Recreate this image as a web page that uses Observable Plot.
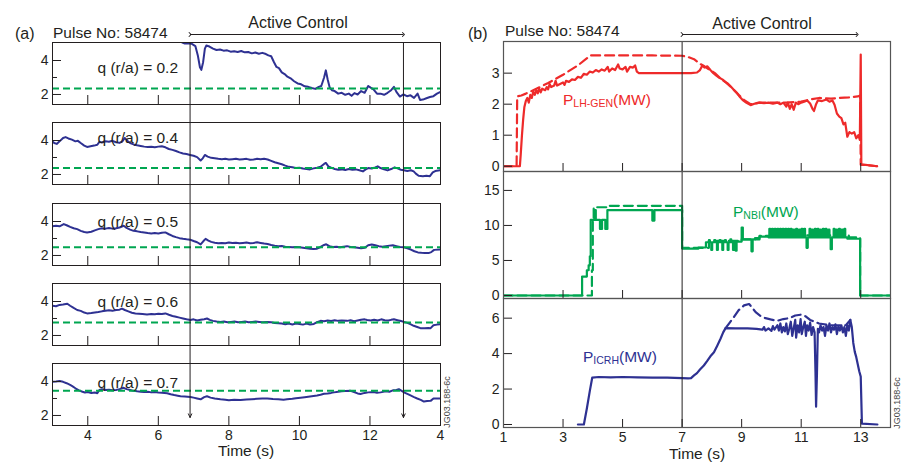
<!DOCTYPE html>
<html><head><meta charset="utf-8">
<script src="https://cdn.jsdelivr.net/npm/d3@7"></script>
<script src="https://cdn.jsdelivr.net/npm/@observablehq/plot@0.6"></script>
<style>
body{margin:0;background:#fff;}
#chart{position:relative;width:905px;height:469px;background:#fff;font-family:"Liberation Sans",Arial,Helvetica,sans-serif;color:#231f20;overflow:hidden}
.lbl{position:absolute;white-space:nowrap;line-height:1}
</style></head><body><div id="chart"></div>
<script>
// ---------------- data ----------------
const pulseLabel = "Pulse No: 58474";
const activeLabel = "Active Control";
const codeLabel = "JG03.188-6c";
const timeLabel = "Time (s)";

// panel (a): safety factor q at several radii
const qLabels = ["q (r/a) = 0.2", "q (r/a) = 0.4", "q (r/a) = 0.5", "q (r/a) = 0.6", "q (r/a) = 0.7"];
const qTargets = [2.35, 2.38, 2.48, 2.77, 3.45];
const qTicks = [2, 4];
const qMinorTicks = [3];
const timeATicks = [4, 6, 8, 10, 12, 14];
const timeATickLabels = ["4", "6", "8", "10", "12", "4"];
const timeAInnerTicks = [4, 6, 8, 10, 12];
const activeA = [6.9, 12.95];

const q02 = [[6.68,5.05],[6.75,5.0],[6.85,5.02],[6.95,4.98],[7.05,4.85],[7.12,4.3],[7.18,3.6],[7.22,3.45],[7.27,3.9],[7.32,4.7],[7.36,4.88],[7.45,4.82],[7.55,4.7],[7.65,4.62],[7.75,4.65],[7.85,4.58],[7.95,4.6],[8.05,4.52],[8.15,4.55],[8.25,4.5],[8.35,4.56],[8.45,4.48],[8.55,4.5],[8.65,4.42],[8.75,4.47],[8.85,4.4],[8.95,4.45],[9.05,4.38],[9.12,4.3],[9.2,4.25],[9.28,3.9],[9.35,3.62],[9.42,3.55],[9.5,3.3],[9.58,3.2],[9.66,3.05],[9.75,2.95],[9.85,2.78],[9.95,2.65],[10.05,2.6],[10.15,2.48],[10.25,2.45],[10.35,2.38],[10.45,2.33],[10.55,2.45],[10.62,2.5],[10.7,3.0],[10.75,3.42],[10.8,2.9],[10.86,2.4],[10.92,2.25],[11.0,2.2],[11.1,2.05],[11.2,2.1],[11.3,1.98],[11.4,2.05],[11.48,1.92],[11.56,2.08],[11.65,2.0],[11.75,2.2],[11.85,2.1],[11.95,2.5],[12.02,2.4],[12.1,2.3],[12.2,2.05],[12.3,2.05],[12.4,1.98],[12.5,2.1],[12.6,2.25],[12.68,2.45],[12.75,2.15],[12.85,1.88],[12.95,2.0],[13.05,1.9],[13.15,1.95],[13.25,1.8],[13.35,2.05],[13.42,1.68],[13.5,1.7],[13.6,1.78],[13.7,1.85],[13.8,1.9],[13.9,2.05],[14.0,2.15]];
const q04 = [[3.0,3.95],[3.05,3.85],[3.12,3.8],[3.2,3.95],[3.3,4.15],[3.37,4.2],[3.45,4.12],[3.55,4.05],[3.65,3.95],[3.72,3.98],[3.8,3.85],[3.9,3.7],[3.98,3.62],[4.08,3.66],[4.18,3.7],[4.27,3.75],[4.33,3.92],[4.4,3.88],[4.5,3.95],[4.6,3.93],[4.7,3.98],[4.8,3.9],[4.9,3.86],[4.98,3.95],[5.05,4.15],[5.12,3.98],[5.2,3.85],[5.3,3.77],[5.4,3.72],[5.5,3.68],[5.6,3.64],[5.7,3.62],[5.8,3.63],[5.9,3.6],[6.0,3.64],[6.1,3.66],[6.2,3.6],[6.3,3.5],[6.4,3.45],[6.5,3.38],[6.6,3.3],[6.7,3.24],[6.8,3.2],[6.9,3.15],[7.0,3.1],[7.1,3.02],[7.2,2.82],[7.26,2.95],[7.32,3.15],[7.4,3.05],[7.5,2.98],[7.6,2.95],[7.7,2.92],[7.8,2.9],[7.9,2.92],[8.0,2.88],[8.1,2.9],[8.2,2.92],[8.3,2.88],[8.4,2.9],[8.5,2.92],[8.6,2.87],[8.7,2.88],[8.8,2.92],[8.9,2.9],[9.0,2.93],[9.1,2.88],[9.2,2.8],[9.3,2.72],[9.4,2.66],[9.5,2.6],[9.6,2.52],[9.7,2.45],[9.8,2.42],[9.9,2.38],[10.0,2.4],[10.1,2.35],[10.2,2.32],[10.3,2.3],[10.4,2.36],[10.5,2.4],[10.6,2.45],[10.7,2.62],[10.75,2.68],[10.82,2.48],[10.9,2.4],[11.0,2.32],[11.1,2.28],[11.2,2.3],[11.3,2.26],[11.4,2.32],[11.5,2.28],[11.6,2.3],[11.7,2.25],[11.8,2.18],[11.88,2.3],[11.95,2.38],[12.05,2.35],[12.15,2.42],[12.22,2.48],[12.3,2.38],[12.4,2.3],[12.5,2.24],[12.6,2.32],[12.7,2.42],[12.78,2.36],[12.88,2.28],[12.96,2.25],[13.06,2.2],[13.16,2.25],[13.24,2.18],[13.3,2.05],[13.38,1.92],[13.5,1.9],[13.6,1.93],[13.7,1.9],[13.78,2.12],[13.85,2.2],[14.0,2.25]];
const q05 = [[3.0,3.72],[3.1,3.75],[3.2,3.72],[3.32,3.85],[3.4,3.78],[3.5,3.68],[3.6,3.6],[3.7,3.55],[3.8,3.45],[3.9,3.38],[3.98,3.35],[4.1,3.4],[4.2,3.48],[4.3,3.55],[4.4,3.6],[4.5,3.58],[4.6,3.62],[4.7,3.58],[4.8,3.6],[4.9,3.65],[5.02,3.75],[5.1,3.62],[5.2,3.52],[5.3,3.45],[5.4,3.42],[5.5,3.38],[5.6,3.35],[5.7,3.32],[5.8,3.3],[5.9,3.32],[6.0,3.3],[6.1,3.34],[6.2,3.36],[6.3,3.25],[6.4,3.15],[6.5,3.08],[6.6,3.02],[6.7,2.98],[6.8,2.95],[6.9,2.93],[7.0,2.85],[7.1,2.78],[7.2,2.65],[7.28,2.85],[7.34,2.98],[7.42,2.88],[7.5,2.8],[7.6,2.75],[7.7,2.72],[7.8,2.74],[7.9,2.72],[8.0,2.76],[8.1,2.73],[8.2,2.75],[8.3,2.72],[8.4,2.74],[8.5,2.76],[8.6,2.72],[8.7,2.74],[8.8,2.78],[8.9,2.74],[9.0,2.7],[9.1,2.68],[9.2,2.62],[9.3,2.58],[9.4,2.55],[9.5,2.56],[9.6,2.52],[9.7,2.5],[9.8,2.48],[9.9,2.5],[10.0,2.48],[10.1,2.45],[10.2,2.42],[10.3,2.4],[10.4,2.38],[10.5,2.4],[10.6,2.5],[10.7,2.62],[10.76,2.66],[10.85,2.55],[10.95,2.5],[11.05,2.52],[11.15,2.48],[11.25,2.52],[11.35,2.55],[11.45,2.5],[11.55,2.48],[11.65,2.45],[11.75,2.42],[11.85,2.45],[11.95,2.6],[12.05,2.65],[12.15,2.6],[12.25,2.55],[12.35,2.52],[12.45,2.55],[12.55,2.58],[12.65,2.6],[12.75,2.55],[12.85,2.5],[12.96,2.48],[13.06,2.42],[13.16,2.35],[13.26,2.25],[13.36,2.18],[13.46,2.16],[13.56,2.15],[13.66,2.14],[13.74,2.2],[13.82,2.33],[14.0,2.36]];
const q06 = [[3.0,3.75],[3.1,3.72],[3.2,3.8],[3.3,3.82],[3.42,3.87],[3.5,3.75],[3.6,3.62],[3.7,3.5],[3.8,3.45],[3.9,3.35],[3.98,3.3],[4.1,3.32],[4.2,3.35],[4.3,3.38],[4.4,3.42],[4.5,3.45],[4.6,3.48],[4.7,3.45],[4.8,3.5],[4.9,3.52],[4.97,3.58],[5.05,3.5],[5.15,3.42],[5.25,3.34],[5.35,3.3],[5.45,3.28],[5.55,3.26],[5.68,3.24],[5.8,3.26],[5.9,3.25],[6.0,3.28],[6.1,3.26],[6.2,3.3],[6.3,3.22],[6.4,3.15],[6.5,3.1],[6.6,3.05],[6.7,3.0],[6.8,2.95],[6.91,2.91],[7.0,2.95],[7.1,2.88],[7.2,2.92],[7.3,2.96],[7.38,3.0],[7.46,2.92],[7.55,2.86],[7.65,2.82],[7.76,2.8],[7.86,2.82],[7.96,2.78],[8.06,2.8],[8.16,2.82],[8.26,2.78],[8.36,2.8],[8.46,2.82],[8.56,2.78],[8.66,2.8],[8.76,2.82],[8.86,2.8],[8.96,2.78],[9.09,2.8],[9.2,2.78],[9.3,2.74],[9.4,2.72],[9.5,2.7],[9.6,2.66],[9.7,2.7],[9.8,2.65],[9.9,2.7],[10.0,2.68],[10.1,2.64],[10.2,2.7],[10.3,2.65],[10.41,2.68],[10.5,2.78],[10.6,2.86],[10.7,2.84],[10.8,2.88],[10.9,2.85],[11.0,2.9],[11.1,2.86],[11.2,2.88],[11.35,2.86],[11.45,2.9],[11.55,2.84],[11.65,2.88],[11.75,2.92],[11.85,2.95],[11.92,2.91],[12.02,2.88],[12.12,2.92],[12.22,2.88],[12.32,2.95],[12.42,2.9],[12.52,2.88],[12.6,2.92],[12.68,2.95],[12.78,2.9],[12.88,2.85],[12.96,2.8],[13.06,2.74],[13.16,2.65],[13.24,2.57],[13.34,2.5],[13.43,2.43],[13.55,2.42],[13.65,2.44],[13.72,2.43],[13.8,2.6],[13.9,2.64],[14.0,2.67]];
const q07 = [[3.0,3.98],[3.1,4.0],[3.2,4.03],[3.3,3.98],[3.4,3.9],[3.5,3.8],[3.56,3.73],[3.65,3.6],[3.75,3.48],[3.85,3.4],[3.92,3.35],[4.0,3.38],[4.1,3.32],[4.2,3.35],[4.27,3.31],[4.33,3.5],[4.4,3.55],[4.5,3.5],[4.6,3.52],[4.7,3.48],[4.8,3.5],[4.9,3.55],[5.02,3.63],[5.1,3.55],[5.2,3.5],[5.3,3.45],[5.4,3.42],[5.5,3.4],[5.6,3.38],[5.7,3.4],[5.8,3.36],[5.9,3.38],[6.0,3.35],[6.1,3.34],[6.25,3.31],[6.35,3.25],[6.45,3.2],[6.55,3.16],[6.63,3.13],[6.75,3.12],[6.91,3.09],[7.0,3.05],[7.1,3.0],[7.2,2.95],[7.3,3.08],[7.38,3.13],[7.48,3.05],[7.6,3.0],[7.76,2.95],[7.9,2.93],[8.0,2.9],[8.15,2.92],[8.33,2.91],[8.5,2.94],[8.65,2.96],[8.8,2.98],[8.95,3.0],[9.09,3.0],[9.25,2.97],[9.4,2.95],[9.55,2.93],[9.65,2.95],[9.8,2.98],[9.9,3.02],[10.03,3.05],[10.15,3.08],[10.3,3.12],[10.4,3.15],[10.5,3.18],[10.6,3.22],[10.7,3.28],[10.8,3.3],[10.9,3.33],[10.98,3.36],[11.1,3.4],[11.2,3.42],[11.3,3.44],[11.45,3.45],[11.55,3.38],[11.65,3.3],[11.73,3.27],[11.85,3.33],[11.95,3.36],[12.1,3.38],[12.2,3.34],[12.3,3.36],[12.45,3.42],[12.55,3.4],[12.65,3.48],[12.75,3.5],[12.82,3.55],[12.9,3.45],[12.98,3.35],[13.06,3.27],[13.15,3.18],[13.25,3.08],[13.34,3.0],[13.44,2.92],[13.53,2.82],[13.62,2.85],[13.72,2.86],[13.8,3.0],[14.0,3.0]];

// panel (b): heating powers (MW); solid = delivered, dashed = requested
const timeBTicks = [1, 3, 5, 7, 9, 11, 13];
const activeB = [7.0, 12.88];
const lhTicks = [0, 1, 2, 3];
const nbiTicks = [0, 5, 10, 15];
const icrhTicks = [0, 2, 4, 6];

const lhSolid = [[1.0,0],[1.55,0],[1.58,0.4],[1.62,1.0],[1.66,1.5],[1.7,1.9],[1.75,2.1],[1.8,2.2],[1.85,2.05],[1.9,2.3],[1.95,2.2],[2.0,2.4],[2.05,2.3],[2.1,2.45],[2.15,2.35],[2.2,2.5],[2.25,2.38],[2.3,2.5],[2.4,2.45],[2.45,2.55],[2.5,2.48],[2.55,2.65],[2.6,2.55],[2.7,2.6],[2.75,2.75],[2.8,2.6],[2.9,2.65],[3.0,2.7],[3.05,2.62],[3.1,2.75],[3.2,2.72],[3.3,2.8],[3.4,2.78],[3.5,2.88],[3.6,2.85],[3.7,2.98],[3.8,2.95],[3.9,3.05],[4.0,3.02],[4.1,3.1],[4.2,3.05],[4.3,3.12],[4.4,3.08],[4.5,3.2],[4.55,3.05],[4.65,3.15],[4.75,3.1],[4.85,3.28],[4.9,3.15],[5.0,3.12],[5.1,3.2],[5.15,3.05],[5.25,3.2],[5.35,3.18],[5.42,3.25],[5.48,3.05],[5.55,3.0],[5.75,3.0],[6.0,3.0],[6.5,3.0],[6.9,3.0],[7.3,3.0],[7.5,3.02],[7.6,3.1],[7.68,3.25],[7.75,3.18],[7.85,3.22],[7.95,3.1],[8.05,3.0],[8.15,2.92],[8.25,2.85],[8.35,2.8],[8.45,2.72],[8.55,2.65],[8.65,2.55],[8.75,2.45],[8.85,2.35],[8.95,2.22],[9.05,2.12],[9.15,2.05],[9.3,1.97],[9.45,2.02],[9.6,2.05],[9.75,2.03],[9.9,2.05],[10.05,2.02],[10.2,2.05],[10.3,2.0],[10.4,2.05],[10.5,1.92],[10.55,2.05],[10.62,1.85],[10.68,2.0],[10.75,1.82],[10.82,2.05],[10.9,2.0],[11.0,2.05],[11.1,2.08],[11.2,2.12],[11.3,2.02],[11.38,1.85],[11.43,1.78],[11.5,2.0],[11.56,2.12],[11.7,2.1],[11.85,2.15],[11.95,2.08],[12.05,2.12],[12.12,1.98],[12.2,1.7],[12.28,1.6],[12.35,1.55],[12.42,1.35],[12.48,1.4],[12.55,0.95],[12.62,1.1],[12.7,1.05],[12.78,1.1],[12.85,0.9],[12.92,1.0],[12.97,0.85],[13.0,3.6],[13.02,0.05],[13.1,0.05],[13.55,0.0]];
const lhDashed = [[1.0,0],[1.44,0],[1.46,2.25],[1.6,2.28],[1.75,2.34],[2.0,2.45],[2.5,2.68],[3.0,2.95],[3.5,3.25],[3.92,3.57],[5.0,3.57],[6.0,3.57],[7.0,3.56],[7.2,3.52],[7.4,3.45],[7.6,3.3],[7.75,3.22],[7.9,3.12],[8.1,3.0],[8.3,2.82],[8.5,2.68],[8.7,2.5],[8.9,2.3],[9.1,2.12],[9.3,2.0],[9.6,2.05],[10.0,2.05],[10.5,2.05],[11.0,2.08],[11.3,2.15],[11.6,2.2],[12.0,2.18],[12.3,2.2],[12.6,2.22],[12.9,2.25],[12.98,2.28],[13.0,0.05],[13.55,0.0]];

const nbiSolid = [[1,0],[3.64,2.7],[3.8,3.6],[3.86,4.3],[3.9,5.6],[3.93,10.8],[4.06,12.2],[4.1,10.8],[4.24,9.5],[4.31,10.8],[4.42,9.5],[4.49,12.2],[6.0,10.7],[6.07,12.2],[7.0,6.7],[7.55,6.85],[7.8,7.6],[7.9,7.9],[7.93,7.6],[7.98,6.5],[8.01,7.6],[8.08,7.9],[8.11,7.6],[8.17,6.5],[8.2,7.6],[8.26,7.9],[8.29,7.6],[8.35,6.5],[8.38,7.6],[8.44,7.9],[8.47,7.6],[8.53,6.5],[8.56,7.6],[8.62,8.0],[8.65,7.6],[8.71,6.5],[8.74,7.6],[8.8,6.4],[8.83,7.7],[9.0,9.7],[9.04,8.0],[9.2,8.0],[9.33,6.3],[9.37,8.0],[9.45,8.2],[9.6,8.4],[9.9,8.3],[9.93,9.5],[9.96,8.3],[10.02,9.5],[10.05,8.3],[10.11,9.5],[10.14,8.3],[10.2,9.5],[10.23,8.3],[10.29,9.5],[10.32,8.3],[10.38,9.5],[10.41,8.3],[10.47,9.5],[10.5,8.3],[10.56,9.5],[10.59,8.3],[10.65,9.5],[10.68,8.3],[10.74,9.4],[10.77,8.3],[10.83,9.5],[10.86,8.3],[10.92,9.4],[10.95,8.3],[11.01,9.5],[11.04,8.3],[11.1,9.5],[11.13,8.3],[11.18,6.8],[11.22,8.3],[11.28,9.5],[11.31,8.3],[11.37,9.4],[11.4,8.3],[11.46,9.5],[11.49,8.3],[11.55,9.5],[11.58,8.3],[11.64,9.4],[11.67,8.3],[11.73,9.5],[11.76,8.3],[11.82,9.5],[11.85,8.3],[11.92,9.4],[11.95,8.3],[11.99,6.6],[12.03,8.3],[12.09,9.5],[12.12,8.3],[12.18,9.4],[12.21,8.3],[12.27,9.5],[12.3,8.3],[12.36,9.4],[12.39,8.3],[12.45,9.5],[12.48,8.3],[12.55,8.1],[12.98,0],[14,0]];
const nbiDashed = [[1,0],[3.97,3.6],[4.0,11.0],[4.03,12.6],[4.5,12.8],[7.0,6.8],[7.9,7.8],[9.0,8.0],[9.6,8.5],[10.0,8.6],[12.6,8.3],[12.98,0],[14,0]];

const icrhSolid = [[3.5,0],[3.7,0],[3.8,0.9],[3.9,1.9],[3.98,2.64],[4.2,2.68],[4.6,2.66],[5.0,2.68],[5.5,2.66],[6.0,2.65],[6.5,2.64],[7.0,2.62],[7.2,2.6],[7.3,2.62],[7.4,2.77],[7.5,2.9],[7.6,3.1],[7.73,3.33],[7.85,3.6],[7.95,3.85],[8.07,4.08],[8.18,4.45],[8.29,4.84],[8.38,5.2],[8.46,5.44],[8.8,5.42],[9.2,5.42],[9.5,5.4],[9.7,5.35],[9.75,5.5],[9.8,5.3],[9.9,5.42],[10.0,5.28],[10.05,5.55],[10.1,5.35],[10.2,5.6],[10.25,5.3],[10.3,5.7],[10.35,5.2],[10.4,5.5],[10.45,5.25],[10.5,5.7],[10.55,5.1],[10.6,5.4],[10.65,5.8],[10.7,5.0],[10.75,5.45],[10.8,5.9],[10.83,4.9],[10.88,5.6],[10.93,5.2],[10.98,5.95],[11.02,5.1],[11.07,5.5],[11.12,5.8],[11.16,5.0],[11.2,5.6],[11.25,5.3],[11.3,5.75],[11.35,5.05],[11.4,5.5],[11.45,5.2],[11.48,2.95],[11.5,1.0],[11.53,2.9],[11.56,5.4],[11.6,5.2],[11.65,5.6],[11.7,5.3],[11.75,5.5],[11.8,5.0],[11.85,5.6],[11.9,5.3],[11.95,5.7],[12.0,5.2],[12.05,5.5],[12.1,5.35],[12.15,5.65],[12.2,5.1],[12.25,5.55],[12.3,5.3],[12.35,5.6],[12.4,5.2],[12.45,5.5],[12.5,5.0],[12.55,5.6],[12.6,5.3],[12.65,5.9],[12.7,5.5],[12.75,4.6],[12.8,4.1],[12.85,3.8],[12.9,3.4],[12.95,3.0],[13.0,2.7],[13.04,0.05],[13.56,0]];
const icrhDashed = [[8.46,5.44],[8.6,5.75],[8.74,6.06],[8.9,6.45],[9.08,6.72],[9.25,6.8],[9.35,6.6],[9.47,6.34],[9.64,6.12],[9.8,6.0],[9.97,5.93],[10.19,5.85],[10.4,5.95],[10.6,6.0],[10.8,6.15],[11.0,6.2],[11.15,6.1],[11.3,5.9],[11.6,5.7],[12.0,5.6],[12.5,5.6],[12.65,5.9]];

// ---------------- drawing ----------------
const FONT = '"Liberation Sans", Arial, Helvetica, sans-serif';
const INK = "#231f20";
const BLUE = "#2e3192";
const GREEN = "#00a651";
const RED = "#ee2a2a";
const chart = document.getElementById("chart");
const intFmt = d => String(d);

function place(svg, left, top) {
  Object.assign(svg.style, {position: "absolute", left: left + "px", top: top + "px",
    background: "transparent", overflow: "visible", fontFamily: FONT, fontSize: "14px",
    color: INK, maxWidth: "none"});
  chart.appendChild(svg);
}
function label(html, left, baseline, size, opts = {}) {
  const d = document.createElement("div");
  d.className = "lbl";
  d.innerHTML = html;
  d.style.fontSize = size + "px";
  d.style.left = left + "px";
  d.style.top = (baseline - 0.8465 * size) + "px";
  d.style.color = opts.color || INK;
  if (opts.center) d.style.transform = "translateX(-50%)";
  chart.appendChild(d);
  return d;
}
function rotated(text, cx, cy, size) {
  const d = document.createElement("div");
  d.className = "lbl";
  d.textContent = text;
  d.style.fontSize = size + "px";
  d.style.left = cx + "px";
  d.style.top = cy + "px";
  d.style.color = "#444";
  d.style.transform = "translate(-50%,-50%) rotate(-90deg)";
  chart.appendChild(d);
}
const xy = {x: d => d[0], y: d => d[1]};

// ----- panel (a) -----
const A = {width: 460, ml: 52, mr: 20, h: 62, tops: [42, 122, 203, 283, 363], labelDy: [19, 9, 12, 12, 13.5]};
const qSeries = [q02, q04, q05, q06, q07];
qSeries.forEach((series, i) => {
  const bottom = i === qSeries.length - 1;
  const fw = A.width - A.ml - A.mr;
  const marks = [
    Plot.line(series, {...xy, stroke: BLUE, strokeWidth: 2, clip: true}),
    Plot.ruleY([qTargets[i]], {stroke: GREEN, strokeWidth: 2, strokeDasharray: "7,4"}),
    Plot.tickY(qTicks, {y: d => d, insetRight: fw - 9, stroke: INK}),
    Plot.tickY(qMinorTicks, {y: d => d, insetRight: fw - 5, stroke: INK}),
    Plot.tickX(timeAInnerTicks, {x: d => d, insetTop: A.h - 9, stroke: INK}),
    Plot.axisY({ticks: qTicks, tickSize: 0, tickPadding: 4, label: null, fontSize: 14, tickFormat: intFmt}),
    Plot.text([qLabels[i]], {text: d => d, frameAnchor: "top-left", textAnchor: "start", dx: 45, dy: A.labelDy[i], fontSize: 15.5, fill: INK}),
    Plot.frame({stroke: INK, strokeWidth: 1})
  ];
  if (bottom) marks.push(Plot.axisX({ticks: timeATicks, tickSize: 0, tickPadding: 5, label: null, fontSize: 14,
    tickFormat: d => timeATickLabels[timeATicks.indexOf(d)]}));
  const svg = Plot.plot({
    width: A.width, height: A.h + (bottom ? 45 : 0),
    marginLeft: A.ml, marginRight: A.mr, marginTop: 0, marginBottom: bottom ? 45 : 0,
    x: {domain: [3, 14], axis: null},
    y: {domain: [1.41, 5.06], axis: null},
    marks
  });
  place(svg, 0, A.tops[i]);
});
// overlay: active-control markers spanning all (a) panels
place(Plot.plot({
  width: A.width, height: 375, marginLeft: A.ml, marginRight: A.mr, marginTop: 0, marginBottom: 0,
  x: {domain: [3, 14], axis: null}, y: {domain: [0, 1], axis: null},
  marks: [Plot.arrow(activeA, {x1: d => d, x2: d => d, y1: 1, y2: 0, stroke: INK, strokeWidth: 1, headLength: 6, headAngle: 50})]
}), 0, 42);
place(Plot.plot({
  width: A.width, height: 14, marginLeft: A.ml, marginRight: A.mr, marginTop: 0, marginBottom: 0,
  x: {domain: [3, 14], axis: null}, y: {domain: [0, 1], axis: null},
  marks: [Plot.link([activeA], {x1: d => d[0], x2: d => d[1], y1: 0, y2: 0, stroke: INK, strokeWidth: 1, markerStart: "arrow", markerEnd: "arrow"})]
}), 0, 20);

// ----- panel (b) -----
const B = {width: 905, ml: 503, mr: 15};
const bPanels = [
  {top: 41, h: 130, domain: [-0.17, 4.02], ticks: lhTicks, solid: lhSolid, dashed: lhDashed, color: RED, curve: "linear"},
  {top: 171, h: 127, domain: [-0.43, 17.7], ticks: nbiTicks, solid: nbiSolid, dashed: nbiDashed, color: GREEN, curve: "step-after"},
  {top: 298, h: 129, domain: [-0.17, 7.11], ticks: icrhTicks, solid: icrhSolid, dashed: icrhDashed, color: BLUE, curve: "linear"}
];
bPanels.forEach((p, i) => {
  const bottom = i === bPanels.length - 1;
  const fw = B.width - B.ml - B.mr;
  const marks = [
    Plot.line(p.solid, {...xy, stroke: p.color, strokeWidth: 2.2, curve: p.curve, clip: true}),
    Plot.line(p.dashed, {...xy, stroke: p.color, strokeWidth: 2.2, strokeDasharray: "9,5", curve: p.curve, clip: true}),
    Plot.ruleX([activeB[0]], {stroke: INK, strokeWidth: 1}),
    Plot.tickY(p.ticks, {y: d => d, insetRight: fw - 9, stroke: INK}),
    Plot.tickX(timeBTicks, {x: d => d, insetTop: p.h - 8, stroke: INK}),
    Plot.axisY({ticks: p.ticks, tickSize: 0, tickPadding: 4, label: null, fontSize: 14, tickFormat: intFmt}),
    Plot.frame({stroke: "#555", strokeWidth: 1.2})
  ];
  if (bottom) marks.push(Plot.axisX({ticks: timeBTicks, tickSize: 0, tickPadding: 5, label: null, fontSize: 14, tickFormat: intFmt}));
  const svg = Plot.plot({
    width: B.width, height: p.h + (bottom ? 42 : 0),
    marginLeft: B.ml, marginRight: B.mr, marginTop: 0, marginBottom: bottom ? 42 : 0,
    x: {domain: [1, 14], axis: null},
    y: {domain: p.domain, axis: null},
    marks
  });
  place(svg, 0, p.top);
});
place(Plot.plot({
  width: B.width, height: 14, marginLeft: B.ml, marginRight: B.mr, marginTop: 0, marginBottom: 0,
  x: {domain: [1, 14], axis: null}, y: {domain: [0, 1], axis: null},
  marks: [Plot.link([activeB], {x1: d => d[0], x2: d => d[1], y1: 0, y2: 0, stroke: INK, strokeWidth: 1, markerStart: "arrow", markerEnd: "arrow"})]
}), 0, 20);

// ----- text -----
label("(a)", 15, 40, 16);
label(pulseLabel, 53, 38.5, 15.5);
label(activeLabel, 298, 28.5, 16, {center: true});
label(timeLabel, 246, 456.5, 15.5, {center: true});
rotated(codeLabel, 447, 402, 9);

label("(b)", 468, 40, 16);
label(pulseLabel, 505, 36.5, 15.5);
label(activeLabel, 762, 30, 16, {center: true});
label(timeLabel, 697, 459, 15.5, {center: true});
rotated(codeLabel, 897, 403, 9);

const sub = t => `<span style="font-size:10.5px;position:relative;top:2px">${t}</span>`;
label("P" + sub("LH-GEN") + "(MW)", 563, 105.5, 15.5, {color: RED});
label("P" + sub("NBI") + "(MW)", 733, 216.7, 15.5, {color: GREEN});
label("P" + sub("ICRH") + "(MW)", 583, 362.3, 15.5, {color: BLUE});
</script></body></html>
